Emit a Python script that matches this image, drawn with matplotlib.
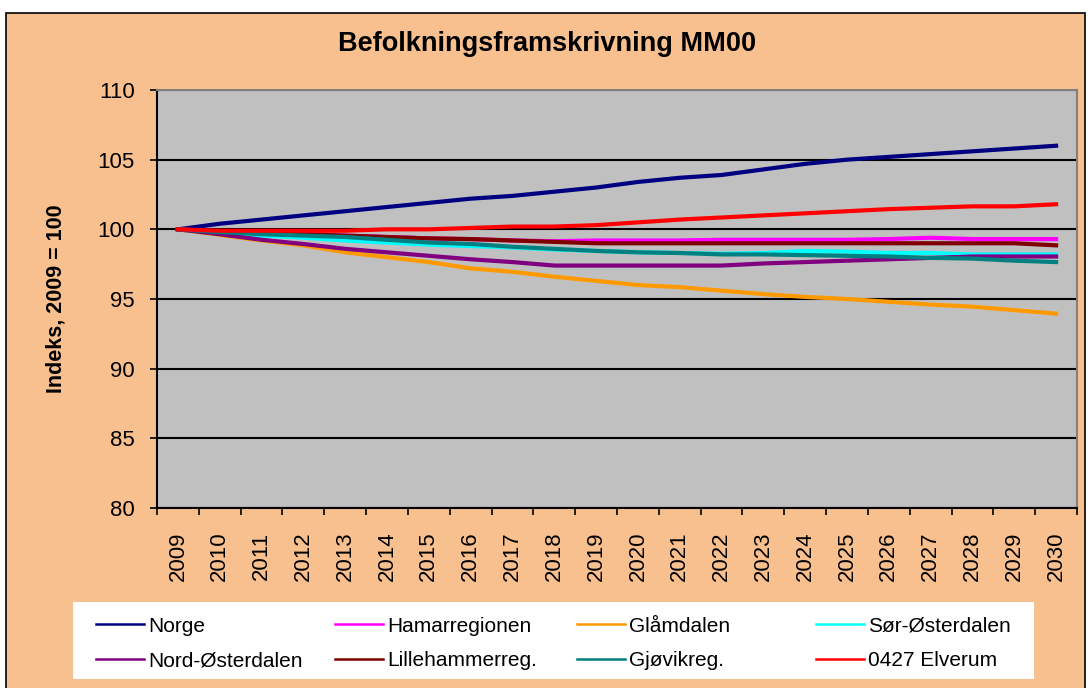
import matplotlib.pyplot as plt
import matplotlib.patches as mpatches
import numpy as np

plt.rcParams['font.family'] = ['Liberation Sans', 'DejaVu Sans']

# Data (index, 2009 = 100)
aar = [str(a) for a in range(2009, 2031)]
norge = [100, 100.4, 100.7, 101.0, 101.3, 101.6, 101.9, 102.2, 102.4, 102.7, 103.0,
         103.4, 103.7, 103.9, 104.3, 104.7, 105.0, 105.2, 105.4, 105.6, 105.8, 106.0]
hamar = [100, 99.85, 99.75, 99.65, 99.55, 99.45, 99.35, 99.3, 99.2, 99.15, 99.2,
         99.2, 99.2, 99.25, 99.25, 99.25, 99.25, 99.3, 99.4, 99.3, 99.3, 99.3]
glamdalen = [100, 99.6, 99.2, 98.85, 98.35, 98.0, 97.65, 97.2, 96.95, 96.6, 96.3,
             96.0, 95.85, 95.6, 95.35, 95.15, 95.0, 94.8, 94.6, 94.45, 94.2, 93.95]
sor_osterdalen = [100, 99.75, 99.55, 99.4, 99.2, 99.05, 98.9, 98.8, 98.7, 98.55, 98.45,
                  98.35, 98.3, 98.25, 98.3, 98.45, 98.4, 98.3, 98.3, 98.2, 98.2, 98.2]
nord_osterdalen = [100, 99.65, 99.25, 98.95, 98.6, 98.35, 98.1, 97.85, 97.65, 97.4, 97.4,
                   97.4, 97.4, 97.4, 97.55, 97.65, 97.75, 97.85, 97.95, 98.05, 98.05, 98.05]
lillehammer = [100, 99.85, 99.75, 99.65, 99.55, 99.45, 99.35, 99.3, 99.2, 99.1, 99.0,
               99.0, 99.0, 99.0, 99.0, 99.0, 99.0, 99.0, 99.0, 99.0, 99.0, 98.85]
gjovik = [100, 99.8, 99.65, 99.55, 99.45, 99.25, 99.05, 98.95, 98.75, 98.6, 98.45,
          98.35, 98.3, 98.2, 98.2, 98.15, 98.1, 98.05, 97.95, 97.9, 97.75, 97.65]
elverum = [100, 99.9, 99.9, 99.9, 99.9, 100.0, 100.0, 100.1, 100.2, 100.2, 100.3,
           100.5, 100.7, 100.85, 101.0, 101.15, 101.3, 101.45, 101.55, 101.65, 101.65, 101.8]

serier = [
    ("Norge", norge, "#000080"),
    ("Hamarregionen", hamar, "#FF00FF"),
    ("Glåmdalen", glamdalen, "#FF9900"),
    ("Sør-Østerdalen", sor_osterdalen, "#00FFFF"),
    ("Nord-Østerdalen", nord_osterdalen, "#800080"),
    ("Lillehammerreg.", lillehammer, "#800000"),
    ("Gjøvikreg.", gjovik, "#008080"),
    ("0427 Elverum", elverum, "#FF0000"),
]

fig = plt.figure(figsize=(10.88, 6.88), dpi=100, facecolor="white")
# chart area background with black border
fig.patches.append(mpatches.Rectangle((6 / 1088, -0.01), 1079 / 1088, (688 - 13) / 688 + 0.01,
                                      transform=fig.transFigure, facecolor="#F9C08F",
                                      edgecolor="black", linewidth=1.2, zorder=-2))

ax = fig.add_axes([157 / 1088, (688 - 508) / 688, 920 / 1088, 418 / 688])
ax.set_facecolor("#C0C0C0")

x = np.arange(len(aar))
linjer = []
for navn, verdier, farge in serier:
    l, = ax.plot(x, verdier, color=farge, linewidth=3, label=navn, solid_joinstyle="round")
    linjer.append(l)

ax.set_ylim(80, 110)
ax.set_yticks(range(80, 111, 5))
ax.yaxis.grid(True, color="black", linewidth=1.5)
ax.set_axisbelow(True)
ax.set_xlim(-0.5, len(aar) - 0.5)

# ticks at category boundaries, labels at centers
ax.set_xticks(np.arange(-0.5, len(aar), 1))
ax.set_xticklabels([])
ax.set_xticks(x, minor=True)
ax.set_xticklabels(aar, minor=True, rotation=90, fontsize=16)
ax.tick_params(axis="x", which="major", length=5, width=1.2, direction="out")
ax.tick_params(axis="x", which="minor", length=0, pad=17)
ax.tick_params(axis="y", length=5, width=1.2, labelsize=16, pad=11)

for s in ["left", "bottom"]:
    ax.spines[s].set_color("black")
    ax.spines[s].set_linewidth(1.5)
for s in ["top", "right"]:
    ax.spines[s].set_color("#808080")
    ax.spines[s].set_linewidth(1.5)

ax.set_ylabel("Indeks, 2009 = 100", fontsize=15.5, fontweight="bold")
ax.yaxis.set_label_coords(-0.098, 0.5)
fig.text(547 / 1088, 1 - 44 / 688, "Befolkningsframskrivning MM00", ha="center", va="center",
         fontsize=19.5, fontweight="bold")

# legend: white box with four columns
fig.patches.append(mpatches.Rectangle((73 / 1088, 1 - 679 / 688), 961 / 1088, 77 / 688,
                                      transform=fig.transFigure, facecolor="white",
                                      edgecolor="none", zorder=-1))
kol_x = [77, 316, 558, 797]
for k in range(4):
    h = [linjer[k], linjer[k + 4]]
    leg = fig.legend(h, [l.get_label() for l in h], loc="upper left",
                     bbox_to_anchor=(kol_x[k] / 1088, 1 - 598 / 688), frameon=False,
                     fontsize=15, handlelength=2.3, handletextpad=0.2, labelspacing=0.75)
    for lh in leg.legend_handles:
        lh.set_linewidth(1.8)

fig.savefig("out.png", dpi=100, facecolor=fig.get_facecolor())
